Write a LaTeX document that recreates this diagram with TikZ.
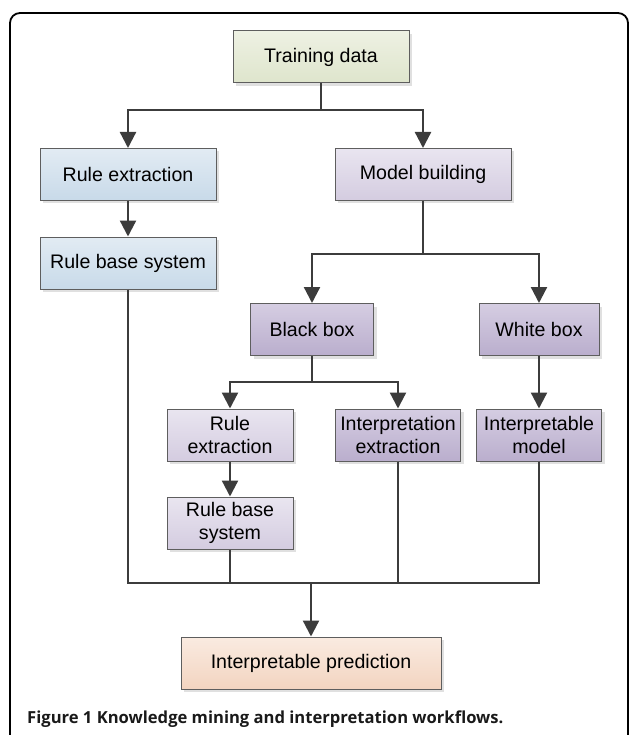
\documentclass[tikz,border=0pt]{standalone}
\usepackage{fontspec}
\setmainfont{Liberation Sans}
\newfontfamily\capfont{Open Sans}
\usepackage{tikz}
\usepackage{xcolor}
\usetikzlibrary{arrows.meta}
\usetikzlibrary{shadows}

\definecolor{linegray}{HTML}{3C3C3C}
\definecolor{boxline}{HTML}{5E5E5E}
\definecolor{greentop}{HTML}{EEF1E3}
\definecolor{greenbot}{HTML}{DEE5CC}
\definecolor{bluetop}{HTML}{E2EBF3}
\definecolor{bluebot}{HTML}{C8DAE9}
\definecolor{lilatop}{HTML}{E9E5F0}
\definecolor{lilabot}{HTML}{D4CCE0}
\definecolor{darktop}{HTML}{D5CDE2}
\definecolor{darkbot}{HTML}{BAAECD}
\definecolor{peachtop}{HTML}{FAEBE1}
\definecolor{peachbot}{HTML}{F3D4C0}

\tikzset{
  box/.style={draw=boxline, line width=1pt, minimum height=52pt, inner sep=2pt,
    font=\fontsize{19.6}{23.5}\selectfont, text=black,
    drop shadow={shadow xshift=3pt, shadow yshift=-3pt, fill=black, opacity=0.12}},
  greenbox/.style={box, top color=greentop, bottom color=greenbot},
  bluebox/.style={box, top color=bluetop, bottom color=bluebot},
  lilabox/.style={box, top color=lilatop, bottom color=lilabot},
  darkbox/.style={box, top color=darktop, bottom color=darkbot},
  peachbox/.style={box, top color=peachtop, bottom color=peachbot},
  ln/.style={line width=2.3pt, draw=linegray},
  arr/.style={ln, -{Triangle[width=16pt,length=16pt]}}
}

\begin{document}
\begin{tikzpicture}[x=1pt, y=-1pt]
\useasboundingbox (0,0) rectangle (630,735);
\draw[line width=1.8pt, black, rounded corners=10pt] (10,735) -- (10,13) -- (628,13) -- (628,735);
%
\node[greenbox, minimum width=176pt] (train) at (321,57) {Training data};
\node[bluebox, minimum width=176pt] (ruleext) at (128,174.5) {Rule extraction};
\node[lilabox, minimum width=176pt] (model) at (423,174.5) {Model building};
\node[bluebox, minimum width=176pt] (rulebase) at (128,263) {Rule base system};
\node[darkbox, minimum width=123pt] (black) at (312,329.5) {Black box};
\node[darkbox, minimum width=120pt] (white) at (539,329.5) {White box};
\node[lilabox, minimum width=126pt, align=center] (subext) at (230,435) {Rule\\extraction};
\node[darkbox, minimum width=125pt, align=center] (interext) at (398,435) {Interpretation\\extraction};
\node[darkbox, minimum width=125pt, align=center] (intermodel) at (539,435) {Interpretable\\model};
\node[lilabox, minimum width=126pt, align=center] (subbase) at (230,523) {Rule base\\system};
\node[peachbox, minimum width=260pt] (pred) at (311,663) {Interpretable prediction};
%
\coordinate (j1) at (321,110);
\coordinate (j2) at (423,254);
\coordinate (j3) at (312,382);
\coordinate (j4) at (311,583);
%
\draw[ln] (train.south) -- (j1);
\draw[arr] (j1) -| (ruleext.north);
\draw[arr] (j1) -| (model.north);
\draw[arr] (ruleext) -- (rulebase);
\draw[ln] (model.south) -- (j2);
\draw[arr] (j2) -| (black.north);
\draw[arr] (j2) -| (white.north);
\draw[ln] (black.south) -- (j3);
\draw[arr] (j3) -| (subext.north);
\draw[arr] (j3) -| (interext.north);
\draw[arr] (white) -- (intermodel);
\draw[arr] (subext) -- (subbase);
%
\draw[ln] (rulebase.south) |- (j4);
\draw[ln] (subbase.south) |- (j4);
\draw[ln] (interext.south) |- (j4);
\draw[ln] (intermodel.south) |- (j4);
\draw[arr] (j4) -- (pred.north);
%
\node[anchor=base west, inner sep=0pt, text=black!90, font=\capfont\bfseries\fontsize{16.6}{20}\selectfont] (caption) at (27,723)
  {Figure 1 Knowledge mining and interpretation workflows.};
\end{tikzpicture}
\end{document}
